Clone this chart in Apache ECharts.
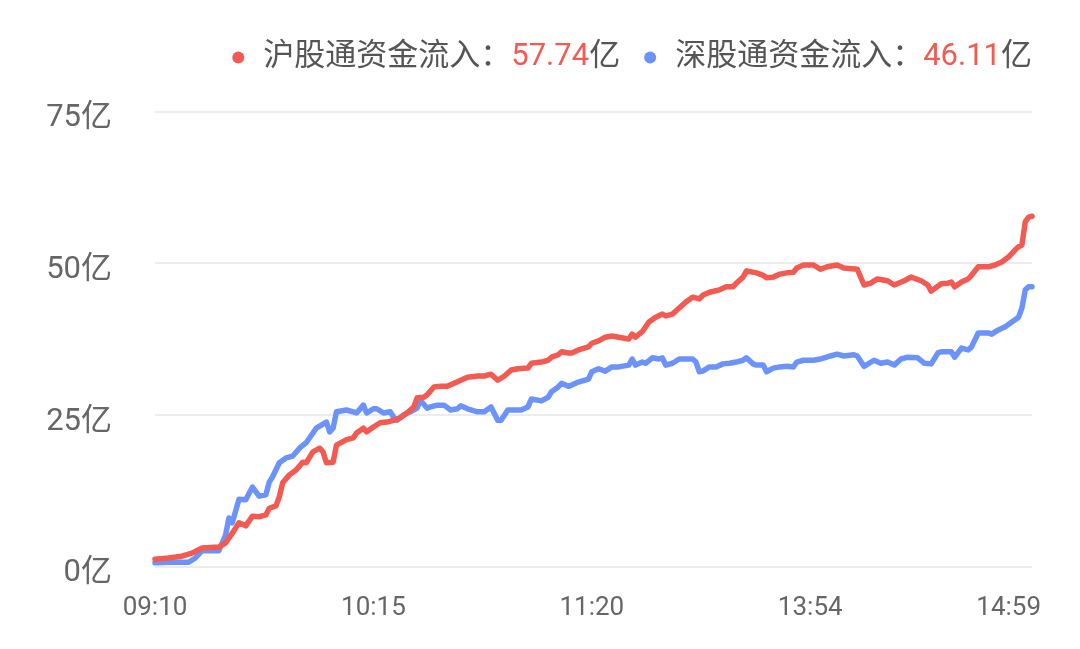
<!DOCTYPE html>
<html>
<head>
<meta charset="utf-8">
<script src="https://cdn.jsdelivr.net/npm/echarts@6/dist/echarts.min.js"></script>
<style>
  html, body { margin: 0; padding: 0; background: #ffffff; }
  #chart { width: 1080px; height: 649px; }
</style>
</head>
<body>
<div id="chart"></div>
<script>
// ---- data (minute index from 09:10, value in 亿) ----
const tickIndex = [0, 65, 130, 195, 260];
const tickLabels = ['09:10', '10:15', '11:20', '13:54', '14:59'];

const shName = '沪股通资金流入';
const shLast = '57.74';
const shIdx = [0, 4, 8, 11, 14, 19, 21, 23, 25, 27, 29, 31, 33, 34, 36, 37, 38, 40, 42, 44, 45, 47, 49, 50, 51, 53, 54, 57, 59, 60, 62, 63, 65, 67, 69, 71, 73, 75, 77, 78, 80, 81, 83, 85, 87, 89, 91, 93, 96, 98, 100, 102, 104, 106, 108, 111, 112, 115, 117, 118, 120, 121, 123, 124, 126, 129, 130, 132, 134, 136, 138, 141, 142, 143, 145, 147, 149, 151, 152, 154, 156, 158, 160, 162, 163, 165, 168, 170, 172, 173, 175, 176, 179, 181, 182, 184, 186, 188, 190, 191, 193, 196, 198, 200, 203, 205, 209, 211, 213, 215, 218, 220, 223, 225, 228, 230, 231, 234, 236, 237, 238, 240, 242, 243, 245, 248, 250, 252, 254, 256, 257, 258, 259, 260, 261];
const shVal = [1.2, 1.4, 1.7, 2.2, 3.05, 3.2, 3.9, 5.5, 7.2, 6.7, 8.3, 8.2, 8.5, 9.6, 10.0, 11.5, 13.8, 15.1, 15.9, 17.2, 17.1, 18.9, 19.5, 18.9, 17.1, 17.2, 20.0, 20.9, 21.2, 22.0, 22.8, 22.2, 23.0, 23.7, 23.8, 24.1, 24.5, 25.3, 26.3, 27.8, 27.9, 28.3, 29.6, 29.7, 29.7, 30.2, 30.7, 31.2, 31.4, 31.4, 31.7, 30.7, 31.4, 32.4, 32.6, 32.7, 33.5, 33.7, 34.0, 34.5, 34.9, 35.4, 35.2, 35.2, 35.7, 36.2, 36.8, 37.2, 37.8, 38.0, 37.8, 37.5, 38.3, 37.8, 38.7, 40.3, 41.1, 41.6, 41.3, 41.6, 42.6, 43.6, 44.4, 44.1, 44.7, 45.2, 45.6, 46.1, 46.1, 46.7, 47.7, 48.7, 48.4, 48.0, 47.6, 47.7, 48.2, 48.4, 48.5, 49.2, 49.7, 49.7, 49.0, 49.4, 49.7, 49.2, 49.0, 46.4, 46.7, 47.4, 47.1, 46.4, 47.1, 47.7, 47.1, 46.4, 45.4, 46.6, 46.7, 46.9, 46.1, 46.9, 47.4, 48.0, 49.4, 49.4, 49.7, 50.2, 51.0, 52.2, 52.7, 53.0, 56.8, 57.6, 57.74];

const szName = '深股通资金流入';
const szLast = '46.11';
const szIdx = [0, 4, 10, 12, 14, 19, 21, 22, 23, 25, 27, 29, 31, 33, 34, 35, 37, 39, 41, 43, 45, 47, 48, 51, 52, 53, 54, 57, 59, 60, 62, 63, 65, 66, 68, 70, 71, 72, 74, 76, 78, 79, 81, 82, 84, 86, 88, 90, 91, 93, 96, 98, 100, 102, 103, 105, 107, 109, 111, 112, 115, 117, 118, 120, 121, 123, 124, 126, 129, 130, 132, 134, 136, 138, 141, 142, 143, 145, 146, 148, 150, 151, 152, 154, 156, 158, 160, 161, 162, 163, 165, 167, 169, 171, 173, 175, 176, 178, 179, 181, 182, 184, 186, 188, 190, 191, 193, 196, 198, 201, 203, 205, 208, 209, 211, 214, 216, 218, 220, 222, 224, 227, 229, 231, 233, 234, 237, 238, 240, 242, 243, 245, 248, 249, 251, 253, 255, 257, 258, 259, 260, 261];
const szVal = [0.6, 0.7, 0.7, 1.4, 2.6, 2.6, 5.2, 8.0, 7.2, 11.1, 11.0, 13.1, 11.6, 11.8, 13.9, 14.8, 17.1, 17.9, 18.2, 19.5, 20.4, 22.0, 22.8, 23.8, 22.2, 22.8, 25.5, 25.8, 25.5, 25.3, 26.6, 25.3, 26.0, 26.0, 25.3, 25.5, 24.6, 24.1, 25.0, 25.5, 26.1, 27.4, 26.1, 26.3, 26.6, 26.6, 25.8, 26.0, 26.5, 26.0, 25.5, 25.5, 26.3, 24.1, 24.1, 25.8, 25.8, 25.8, 26.3, 27.6, 27.3, 27.9, 28.8, 29.6, 30.2, 29.7, 29.9, 30.4, 30.9, 32.1, 32.6, 32.2, 32.9, 32.9, 33.2, 34.2, 33.2, 33.7, 33.5, 34.4, 34.2, 34.4, 33.2, 33.5, 34.2, 34.2, 34.2, 33.7, 32.1, 32.2, 32.9, 32.9, 33.4, 33.5, 33.7, 34.0, 34.4, 33.4, 33.2, 33.2, 32.1, 32.7, 32.9, 33.0, 32.9, 33.7, 34.0, 34.0, 34.2, 34.7, 35.0, 34.7, 34.9, 34.7, 33.0, 34.0, 33.5, 33.7, 33.2, 34.2, 34.5, 34.4, 33.5, 33.4, 35.2, 35.4, 35.4, 34.5, 36.0, 35.7, 36.2, 38.5, 38.5, 38.3, 39.0, 39.5, 40.3, 41.1, 42.6, 45.6, 46.1, 46.11];

const yTicks = [0, 25, 50, 75];

// ---- chart ----
const RED = '#f25a52';
const BLUE = '#6b93fb';
const FONT = 'Roboto, "Noto Sans CJK SC", sans-serif';

function zip(a, b) { return a.map((x, i) => [x, b[i]]); }

const chart = echarts.init(document.getElementById('chart'), null, { renderer: 'canvas' });
chart.setOption({
  animation: false,
  backgroundColor: '#ffffff',
  color: [RED, BLUE],
  legend: {
    right: 43,
    top: 37,
    icon: 'circle',
    itemWidth: 12,
    itemHeight: 12,
    itemGap: 24,
    data: [shName, szName],
    formatter: function (name) {
      const v = name === shName ? shLast : szLast;
      return '{n0|' + name + '：}{v|' + v + '}{n|亿}';
    },
    textStyle: {
      fontFamily: FONT,
      rich: {
        n0: { fontSize: 31, color: '#555555', fontFamily: FONT, padding: [0, 0, 0, 14] },
        n: { fontSize: 31, color: '#555555', fontFamily: FONT },
        v: { fontSize: 31, color: RED, fontFamily: FONT }
      }
    }
  },
  grid: { left: 155, right: 48, top: 111.5, bottom: 82.5 },
  xAxis: {
    type: 'value',
    min: 0,
    max: 261,
    interval: 65,
    axisLine: { show: false },
    axisTick: { show: false },
    splitLine: { show: false },
    axisLabel: {
      margin: 29,
      fontSize: 26,
      color: '#666666',
      fontFamily: FONT,
      formatter: function (v) {
        const i = tickIndex.indexOf(v);
        if (i < 0) return '';
        if (i === tickIndex.length - 1) return '{r|' + tickLabels[i] + '}';
        return tickLabels[i];
      },
      rich: {
        r: { fontSize: 26, color: '#666666', fontFamily: FONT, padding: [0, 40, 0, 0] }
      }
    }
  },
  yAxis: {
    type: 'value',
    min: yTicks[0],
    max: yTicks[yTicks.length - 1],
    interval: yTicks[1] - yTicks[0],
    axisLine: { show: false },
    axisTick: { show: false },
    splitLine: { lineStyle: { color: '#ececec', width: 2 } },
    axisLabel: {
      margin: 43,
      fontSize: 31,
      color: '#666666',
      fontFamily: FONT,
      formatter: function (v) { return '{a|' + v + '亿}'; },
      rich: {
        a: { fontSize: 31, color: '#666666', fontFamily: FONT, padding: [14, 0, 0, 0] }
      }
    }
  },
  series: [
    {
      name: shName,
      type: 'line',
      data: zip(shIdx, shVal),
      showSymbol: false,
      symbol: 'none',
      z: 3,
      lineStyle: { width: 5.5, color: RED, join: 'round', cap: 'round' }
    },
    {
      name: szName,
      type: 'line',
      data: zip(szIdx, szVal),
      showSymbol: false,
      symbol: 'none',
      z: 2,
      lineStyle: { width: 5.5, color: BLUE, join: 'round', cap: 'round' }
    }
  ]
});
</script>
</body>
</html>
